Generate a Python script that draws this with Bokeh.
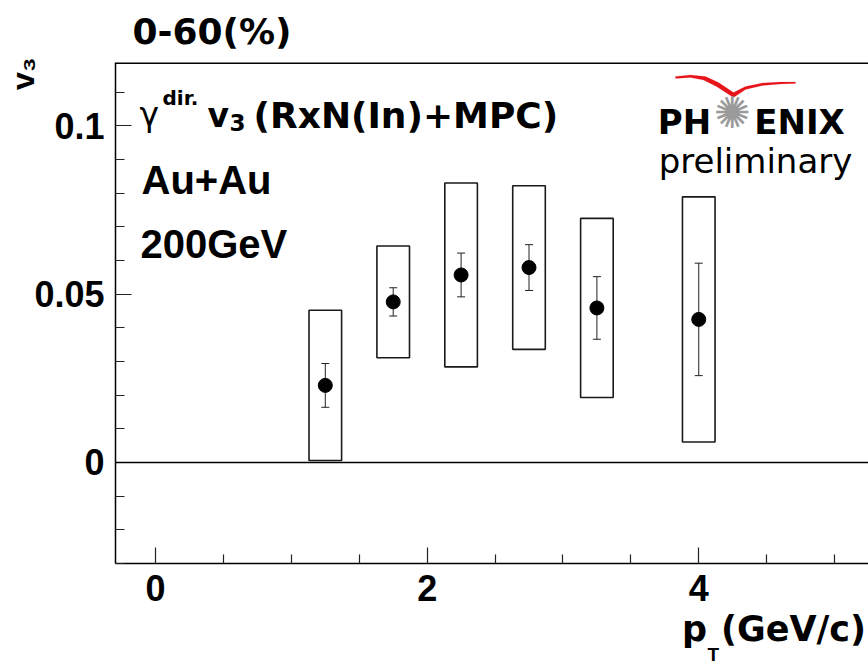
import numpy as np
from bokeh.plotting import figure
from bokeh.models import (Range1d, FixedTicker, Whisker, TeeHead,
                          ColumnDataSource, Span, Label, NumeralTickFormatter,
                          PolyAnnotation)
from bokeh.embed import file_html
from bokeh.resources import INLINE

# ---- data ----
pt = [1.25, 1.75, 2.25, 2.75, 3.25, 4.0]
v3 = [0.0229, 0.0477, 0.0557, 0.0579, 0.0459, 0.0425]
stat_err = [0.0065, 0.0042, 0.0065, 0.0068, 0.0093, 0.0167]
sys_err = [0.0223, 0.0166, 0.0273, 0.0243, 0.0266, 0.0364]

x_major_ticks = [0, 2, 4]
y_major_ticks = [0, 0.05, 0.1]
x_tick_labels = ["0", "2", "4"]

# ---- style / layout ----
BOX_HALF = 0.12
FL, FB = 115, 563          # frame left / bottom on canvas
FT = 64                    # frame top (above panel: title + subscript label)
KY = 503 / 0.15            # pixels per unit of v3 in the reference

pt_a = np.array(pt)
v3_a = np.array(v3)
st_a = np.array(stat_err)
sy_a = np.array(sys_err)

src = ColumnDataSource(dict(
    x=pt_a, y=v3_a,
    up=v3_a + st_a, lo=v3_a - st_a,
    left=pt_a - BOX_HALF, right=pt_a + BOX_HALF,
    top=v3_a + sy_a, bottom=v3_a - sy_a,
))

yr = Range1d(-0.03, -0.03 + (FB - FT) / KY)
p = figure(width=868, height=662, output_backend="svg", toolbar_location=None,
           x_range=Range1d(-0.295, 5.25), y_range=yr,
           min_border_left=FL, min_border_right=0, min_border_top=60,
           min_border_bottom=662 - FB)
p.outline_line_color = None
p.xgrid.visible = False
p.ygrid.visible = False
p.background_fill_color = "white"
p.border_fill_color = "white"

xminor = [v for v in np.arange(-0.5, 5.51, 0.5) if v not in x_major_ticks]
yminor = [round(v, 3) for v in np.arange(-0.03, 0.121, 0.01)]
p.xaxis.ticker = FixedTicker(ticks=x_major_ticks, minor_ticks=xminor)
p.yaxis.ticker = FixedTicker(ticks=y_major_ticks, minor_ticks=yminor)
p.xaxis.major_label_overrides = {t: l for t, l in zip(x_major_ticks, x_tick_labels)}
p.yaxis.formatter = NumeralTickFormatter(format="0.[00]")

for ax in (p.xaxis[0], p.yaxis[0]):
    ax.axis_line_width = 1.5
    ax.axis_line_color = "black"
    ax.major_tick_in = 16
    ax.major_tick_out = 0
    ax.minor_tick_in = 9
    ax.minor_tick_out = 0
    ax.major_tick_line_color = "#222222"
    ax.minor_tick_line_color = "#222222"
    ax.major_tick_line_width = 1.2
    ax.minor_tick_line_width = 1.2
    ax.major_label_text_font = "Liberation Sans"
    ax.major_label_text_font_style = "bold"
    ax.major_label_text_font_size = "36px"
    ax.major_label_text_color = "black"
    ax.axis_label_text_font_style = "bold"
    ax.axis_label_text_color = "black"
    if "axis_label_align" in ax.properties():
        ax.axis_label_align = "end"
p.yaxis.major_label_standoff = 11
p.xaxis.major_label_standoff = 11

# axis titles (centred on the axis end, so trailing non-collapsing spaces
# shift the visible part inward to end at the frame corner)
p.yaxis.axis_label = "v\u2083" + "\u2002\u2009"
p.yaxis.axis_label_text_font = "Liberation Sans"
p.yaxis.axis_label_text_font_size = "32px"
p.yaxis.axis_label_standoff = -10
p.xaxis.axis_label = "p\u2009\u2009(GeV/c)" + "\u2003" * 5 + "\u2009\u2009"
p.xaxis.axis_label_text_font = "DejaVu Sans"
p.xaxis.axis_label_text_font_size = "35px"
p.xaxis.axis_label_standoff = 5

# frame top border and zero line
p.add_layout(Span(location=yr.end, dimension="width", line_color="black", line_width=3))
p.add_layout(Span(location=0, dimension="width", line_color="black", line_width=1.5))

p.quad(left="left", right="right", top="top", bottom="bottom", source=src,
       fill_color=None, line_color="#1a1a1a", line_width=1.6)
p.add_layout(Whisker(base="x", upper="up", lower="lo", source=src,
                     line_color="#222222", line_width=1,
                     upper_head=TeeHead(size=8, line_color="#222222", line_width=1),
                     lower_head=TeeHead(size=8, line_color="#222222", line_width=1)))
p.scatter(x="x", y="y", source=src, size=14, color="black")


def lab(text, cx, cy, size, font="DejaVu Sans", style="bold", align="left",
        baseline="alphabetic", angle=0.0, color="black"):
    """text inside the frame (canvas pixel anchor)"""
    p.add_layout(Label(x=cx - FL, y=FB - cy, x_units="screen", y_units="screen",
                       text=text, text_font=font, text_font_style=style,
                       text_font_size=f"{size}px", text_align=align,
                       text_baseline=baseline, angle=angle, text_color=color))


# texts above the frame (side panel, stacked outward: first T, then title)
S_T = 29  # panel size taken by the subscript label (measured)
p.add_layout(Label(x=707 - FL, y=FT - 666, x_units="screen", y_units="screen",
                   text="T", text_font="Liberation Sans", text_font_style="bold",
                   text_font_size="19px", text_color="black"), "above")
p.add_layout(Label(x=132 - FL, y=(FT - S_T) - 45, x_units="screen", y_units="screen",
                   text="0-60(%)", text_font="DejaVu Sans", text_font_style="bold",
                   text_font_size="36px", text_color="black"), "above")

# legend text
lab("\u03b3", 139, 114, 33, style="normal")
lab("dir.", 162, 97, 20)
lab("v", 207, 115, 33)
lab("3", 229, 122, 23)
lab("(RxN(In)+MPC)", 253, 115, 36)
lab("Au+Au", 141, 179, 40, font="Liberation Sans")
lab("200GeV", 140, 243, 40, font="Liberation Sans")

# PHENIX preliminary logo
up_pts = [(675, 76), (690, 74.5), (705, 76), (718, 82), (733, 92), (745, 86),
          (762, 82.5), (780, 81.5), (795, 81.5)]
lo_pts = [(795, 83), (780, 83.5), (762, 85), (745, 89), (733, 97), (716, 86),
          (703, 79.5), (690, 77), (675, 78)]
poly = up_pts + lo_pts
p.add_layout(PolyAnnotation(xs=[a - FL for a, b in poly], ys=[FB - b for a, b in poly],
                            xs_units="screen", ys_units="screen",
                            fill_color="#e8141b", fill_alpha=1.0,
                            line_color="#e8141b", line_width=0.5))
lab("PH", 684, 121, 34, align="center")
lab("ENIX", 799, 121, 34, align="center")
lab("\u273a", 732, 112, 44, style="normal", align="center", baseline="middle",
    color="#9a9a9a")
lab("preliminary", 755, 160, 34, style="normal", align="center")

open("out.html", "w").write(file_html(p, INLINE))
